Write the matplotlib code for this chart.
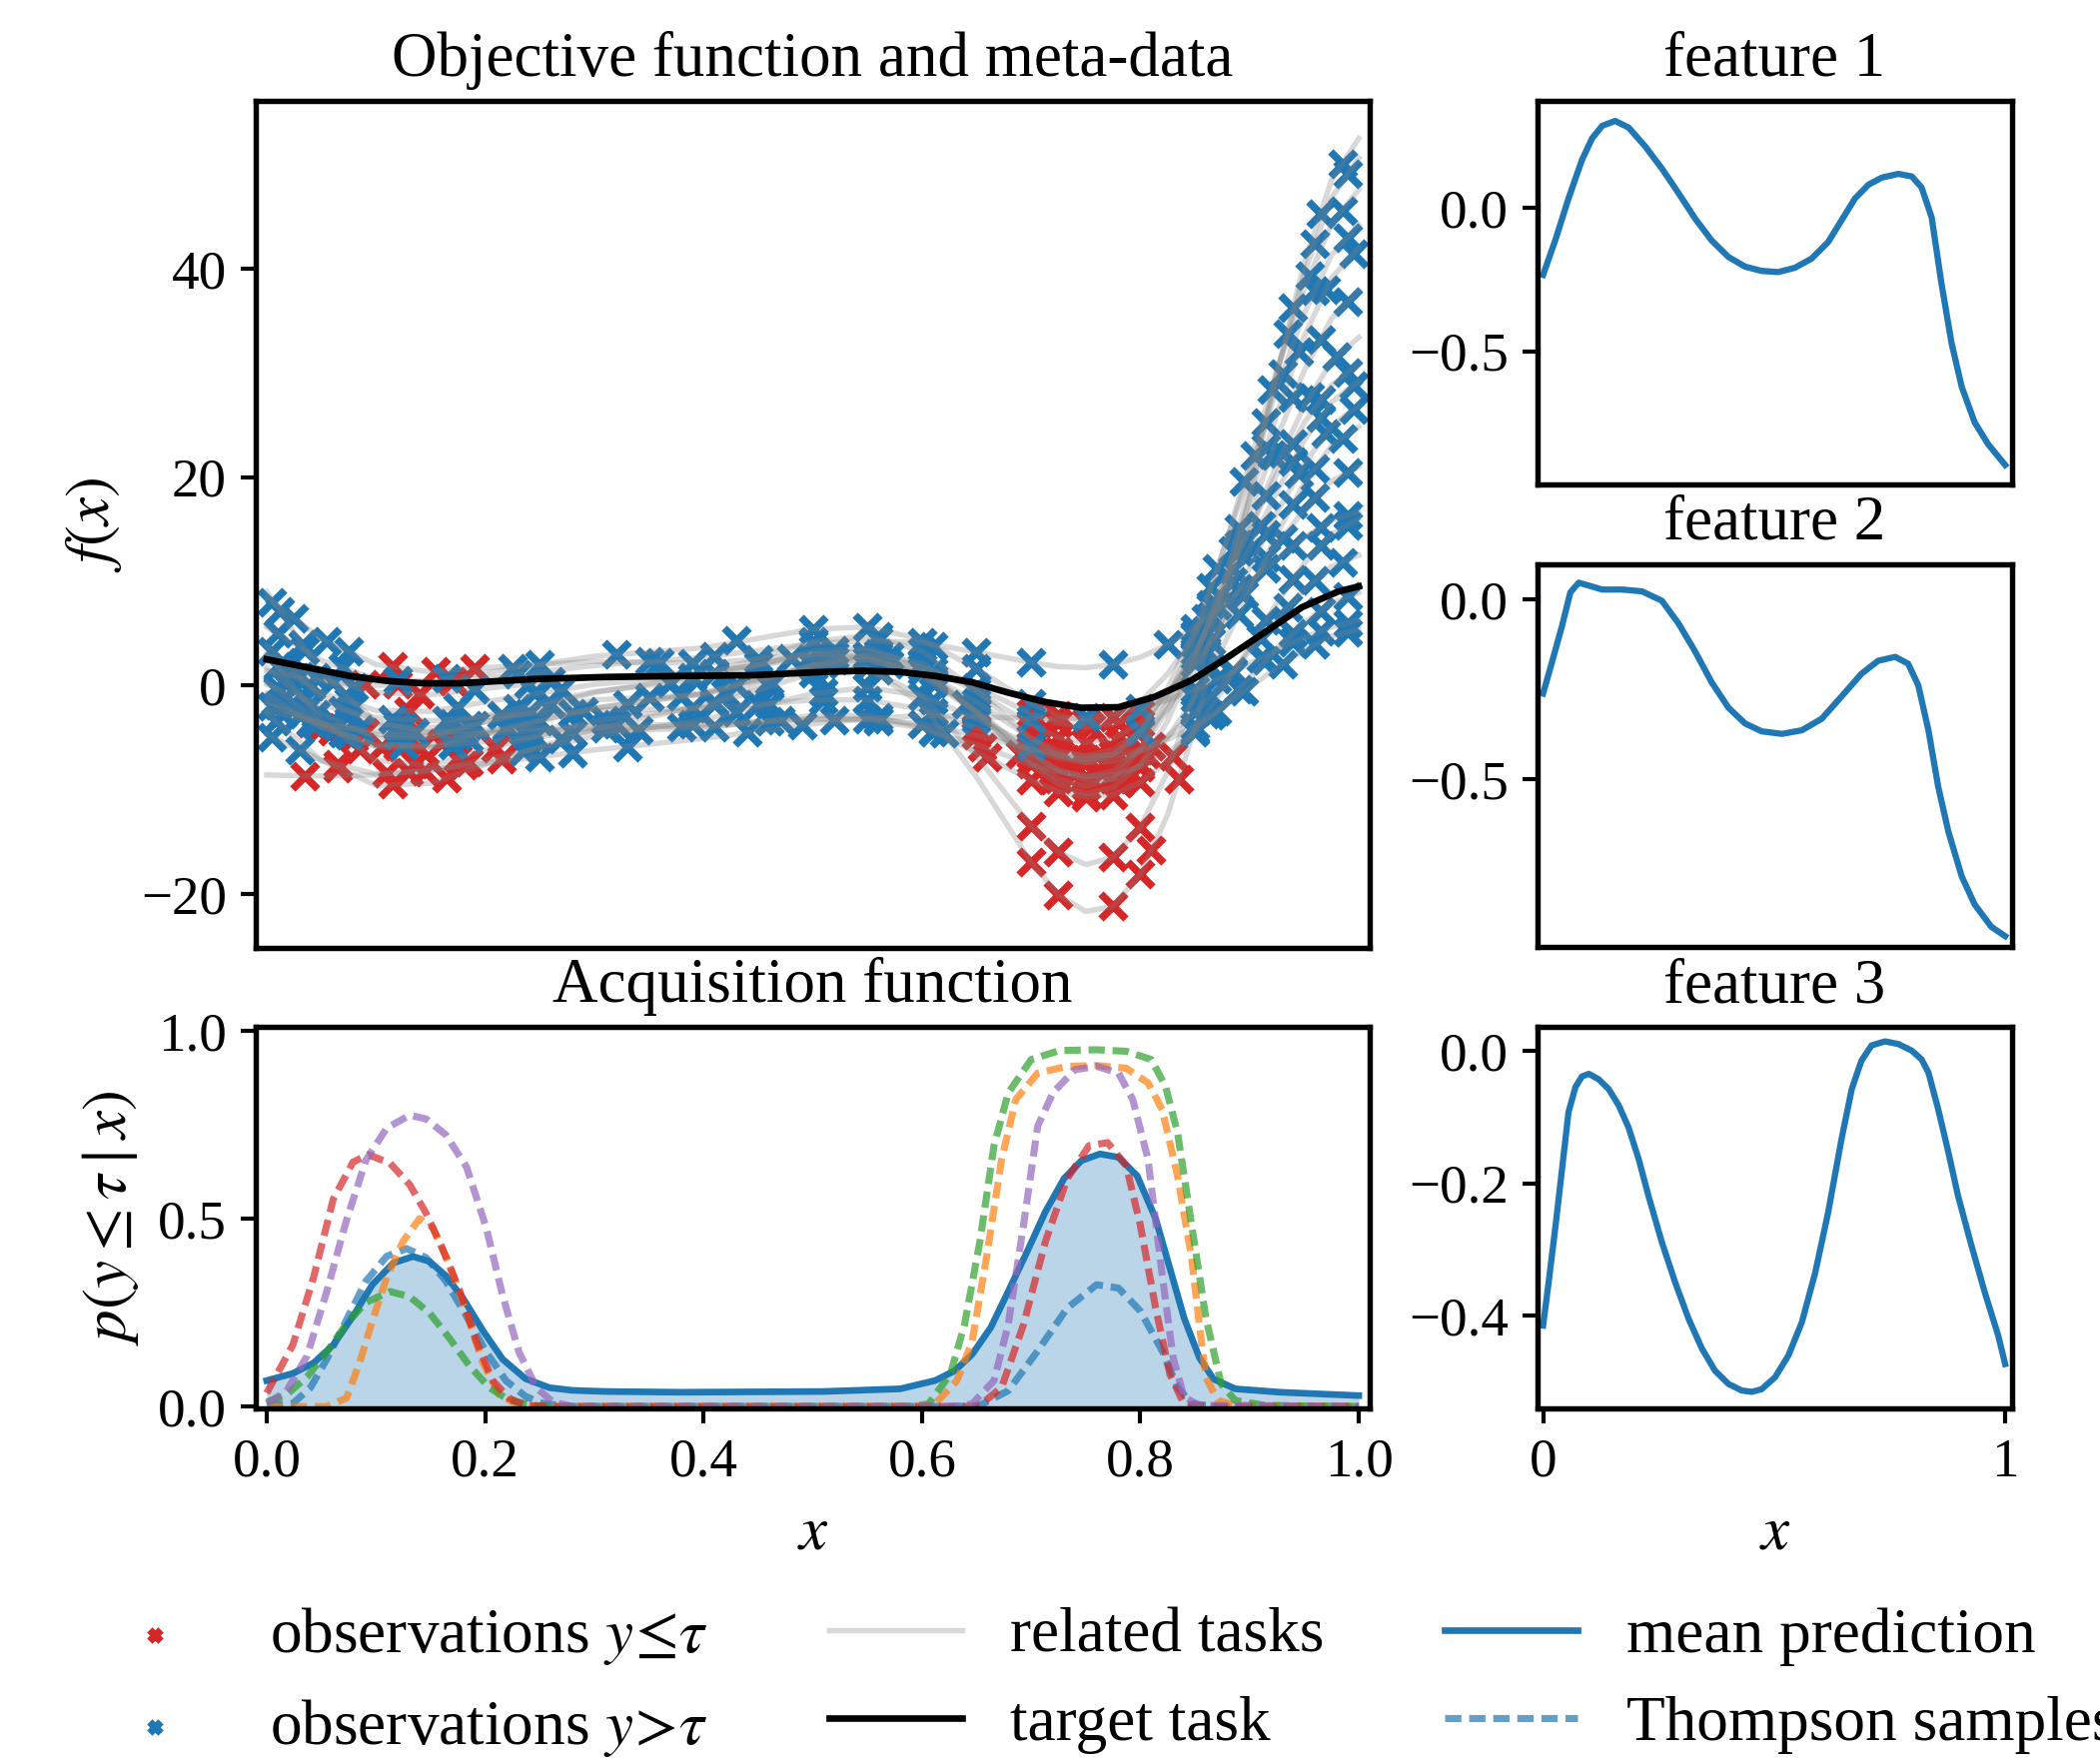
import matplotlib
matplotlib.use("Agg")
import matplotlib.pyplot as plt
from matplotlib.lines import Line2D

plt.rcParams.update({
    "font.family": ["Liberation Serif", "DejaVu Serif"],
    "mathtext.fontset": "stix",
    "font.size": 12.6,
    "xtick.labelsize": 13.2,
    "ytick.labelsize": 13.2,
    "axes.linewidth": 1.3,
    "xtick.major.width": 1.0,
    "ytick.major.width": 1.0,
    "axes.unicode_minus": True,
})

# ---- objective: related tasks (meta-data) sampled on a common grid ----
task_x = [0.0, 0.05, 0.1, 0.15, 0.2, 0.3, 0.4, 0.5, 0.55, 0.6, 0.65, 0.7, 0.725,
          0.75, 0.775, 0.8, 0.825, 0.85, 0.875, 0.9, 0.925, 0.95, 0.975, 1.0]
related_tasks = [
    [9.0, 1.2, -3.5, -4.6, -3.5, -1.4, -0.9, 1.8, 1.7, -1.8, -8.8, -17.0, -20.1, -21.7, -21.2, -18.1, -12.4, -4.0, 6.4, 18.1, 30.0, 40.5, 48.5, 52.5],
    [3.0, -3.4, -7.2, -7.7, -6.2, -3.4, -2.1, 1.2, 1.6, -1.0, -6.8, -13.5, -16.0, -17.2, -16.5, -13.6, -8.3, -0.7, 8.8, 19.3, 30.0, 39.5, 46.8, 50.6],
    [-2.7, -7.2, -9.6, -9.4, -7.6, -4.2, -1.9, 2.0, 2.9, 1.4, -2.6, -7.3, -9.0, -9.7, -8.9, -6.2, -1.6, 4.7, 12.6, 21.3, 30.2, 38.1, 44.3, 47.6],
    [1.7, -2.7, -5.0, -5.0, -3.5, -0.7, 1.0, 4.2, 4.8, 3.3, -0.5, -5.1, -6.7, -7.4, -6.7, -4.4, -0.3, 5.5, 12.6, 20.5, 28.5, 35.7, 41.3, 44.2],
    [3.8, -1.1, -3.8, -4.1, -2.9, -0.6, 0.6, 3.3, 3.6, 1.7, -2.6, -7.6, -9.5, -10.4, -9.8, -7.6, -3.4, 2.4, 9.7, 17.9, 26.1, 33.5, 39.1, 42.0],
    [0.3, -3.7, -5.9, -6.0, -4.7, -2.2, -0.8, 2.0, 2.5, 1.1, -2.4, -6.6, -8.1, -8.8, -8.2, -6.1, -2.4, 2.8, 9.2, 16.4, 23.7, 30.2, 35.2, 37.9],
    [-0.8, -4.0, -5.8, -5.7, -4.5, -2.2, -0.7, 1.9, 2.4, 1.3, -1.6, -5.1, -6.3, -6.8, -6.2, -4.4, -1.2, 3.3, 8.8, 15.0, 21.2, 26.8, 31.1, 33.4],
    [2.4, -0.7, -2.4, -2.5, -1.6, 0.1, 1.0, 3.0, 3.3, 2.1, -0.6, -3.8, -5.0, -5.5, -5.1, -3.6, -0.8, 3.1, 7.9, 13.2, 18.6, 23.5, 27.2, 29.2],
    [-4.7, -7.2, -8.5, -8.2, -7.1, -4.9, -3.3, -0.8, -0.2, -1.0, -3.2, -5.8, -6.8, -7.1, -6.6, -5.0, -2.2, 1.5, 6.2, 11.3, 16.6, 21.2, 24.9, 26.9],
    [2.9, 0.6, -0.7, -0.9, -0.3, 0.8, 1.3, 2.6, 2.8, 1.8, -0.2, -2.7, -3.6, -4.0, -3.7, -2.7, -0.7, 2.1, 5.6, 9.5, 13.4, 16.9, 19.6, 21.0],
    [1.4, 0.4, 0.0, 0.2, 0.7, 1.9, 2.7, 4.0, 4.3, 4.1, 3.2, 2.2, 1.8, 1.7, 2.0, 2.7, 3.9, 5.6, 7.6, 9.9, 12.1, 14.2, 15.8, 16.7],
    [0.1, -1.9, -3.1, -3.4, -3.0, -2.4, -2.2, -1.4, -1.4, -2.3, -4.1, -6.2, -7.0, -7.4, -7.3, -6.4, -4.9, -2.6, 0.1, 3.3, 6.4, 9.2, 11.4, 12.5],
    [-1.8, -3.6, -4.7, -4.9, -4.6, -4.1, -3.9, -3.3, -3.3, -4.1, -5.7, -7.6, -8.3, -8.7, -8.6, -7.8, -6.5, -4.5, -2.0, 0.7, 3.5, 6.0, 7.9, 8.9],
    [-2.4, -3.7, -4.4, -4.5, -4.3, -3.9, -3.7, -3.2, -3.2, -3.7, -4.8, -6.1, -6.6, -6.8, -6.7, -6.2, -5.2, -3.9, -2.2, -0.2, 1.7, 3.4, 4.7, 5.4],
    [-8.6, -8.7, -8.6, -8.1, -7.5, -6.2, -5.1, -3.7, -3.2, -2.9, -3.0, -3.2, -3.2, -3.1, -2.7, -2.2, -1.4, -0.4, 0.8, 2.1, 3.4, 4.6, 5.6, 6.3],
    [8.4, 4.5, 2.0, 1.3, 1.7, 2.3, 2.1, 3.0, 2.7, 0.9, -2.6, -6.7, -8.2, -9.1, -9.0, -7.6, -5.0, -1.2, 3.6, 9.0, 14.5, 19.4, 23.0, 24.8],
    [-1.4, -4.0, -5.6, -5.9, -5.4, -4.4, -4.1, -2.9, -2.9, -4.0, -6.4, -9.1, -10.2, -10.7, -10.5, -9.3, -7.3, -4.3, -0.5, 3.7, 7.9, 11.7, 14.5, 16.0],
    [5.6, 2.4, 0.6, 0.4, 1.2, 2.8, 3.6, 5.4, 5.6, 4.4, 1.6, -1.7, -2.9, -3.5, -3.1, -1.6, 1.1, 4.9, 9.7, 15.0, 20.3, 25.2, 28.8, 30.8],
]

target_x = [0.0, 0.043, 0.076, 0.11, 0.143, 0.177, 0.244, 0.31, 0.378, 0.445, 0.512, 0.545, 0.579,
            0.612, 0.646, 0.679, 0.713, 0.746, 0.78, 0.813, 0.847, 0.88, 0.914, 0.948, 0.981, 1.0]
target_y = [2.5, 1.6, 0.9, 0.43, 0.2, 0.2, 0.6, 0.8, 0.9, 0.97, 1.3, 1.4, 1.3,
            0.9, 0.3, -0.7, -1.6, -2.15, -2.1, -1.1, 0.5, 2.7, 5.1, 7.5, 9.0, 9.5]

# observations with y <= tau (red), (x, y) pairs
obs_low = [
    (0.70, -17.0), (0.725, -20.1), (0.775, -21.2), (0.80, -18.1), (0.81, -15.8), (0.835, -9.0),
    (0.085, -6.1), (0.135, -7.55), (0.175, -6.95), (0.21, -6.0), (0.70, -13.5), (0.725, -16.0),
    (0.775, -16.5), (0.80, -13.6), (0.83, -6.8),
    (0.065, -7.9), (0.115, -9.5), (0.165, -8.9), (0.215, -7.1), (0.725, -9.0), (0.75, -9.7), (0.78, -8.8),
    (0.09, -4.5), (0.125, -5.0), (0.705, -5.4), (0.72, -6.4), (0.75, -7.4), (0.785, -5.8),
    (0.69, -6.6), (0.72, -9.1), (0.75, -10.4), (0.78, -9.4), (0.805, -6.6),
    (0.105, -5.9), (0.14, -6.0), (0.70, -6.6), (0.725, -8.1), (0.75, -8.8), (0.765, -8.4), (0.795, -6.5),
    (0.08, -5.1), (0.12, -5.8), (0.16, -5.5), (0.70, -5.1), (0.725, -6.3), (0.745, -6.7), (0.775, -6.2),
    (0.13, -2.46), (0.70, -3.8), (0.725, -5.0), (0.75, -5.5), (0.78, -5.0), (0.80, -3.6),
    (0.065, -7.6), (0.11, -8.4), (0.145, -8.2), (0.185, -7.4), (0.725, -6.8), (0.75, -7.1), (0.775, -6.6),
    (0.14, -0.86), (0.70, -2.7), (0.725, -3.6), (0.755, -4.0), (0.78, -3.6), (0.80, -2.7),
    (0.09, 0.08), (0.12, 0.08), (0.17, 0.4),
    (0.65, -4.1), (0.70, -6.2), (0.725, -7.0), (0.75, -7.4), (0.775, -7.3), (0.81, -5.8),
    (0.655, -5.9), (0.70, -7.6), (0.72, -8.2), (0.74, -8.5), (0.785, -8.3), (0.80, -7.8),
    (0.65, -4.8), (0.70, -6.1), (0.725, -6.6), (0.76, -6.8), (0.78, -6.7), (0.80, -6.2),
    (0.035, -8.7), (0.13, -8.3), (0.18, -7.7),
    (0.115, 1.8), (0.155, 1.34), (0.19, 1.6), (0.65, -2.6), (0.70, -6.7), (0.75, -9.1), (0.775, -9.0), (0.80, -7.6),
    (0.66, -6.9), (0.70, -9.1), (0.725, -10.2), (0.75, -10.7), (0.775, -10.5), (0.80, -9.3),
    (0.725, -2.9), (0.75, -3.5), (0.775, -3.1),
    (0.04, -3.6), (0.05, -4.0), (0.06, -4.4),
]

# observations with y > tau (blue), (x, y) pairs
obs_high = [
    (0.012, 7.1), (0.033, 3.9), (0.125, -4.05), (0.185, -3.8), (0.24, -2.66), (0.35, -1.1), (0.42, -0.8),
    (0.50, 1.8), (0.55, 1.7), (0.62, -4.6), (0.885, 11.1), (0.915, 25.2), (0.94, 36.3), (0.965, 45.3), (0.985, 50.1),
    (0.02, 0.4), (0.045, -2.8), (0.245, -4.9), (0.31, -3.3), (0.41, -1.8), (0.46, -0.1), (0.50, 1.2),
    (0.56, 1.5), (0.60, -1.0), (0.86, 3.1), (0.89, 15.1), (0.935, 33.8), (0.96, 42.4), (0.99, 49.1),
    (0.008, -3.4), (0.27, -5.2), (0.32, -3.7), (0.41, -1.6), (0.46, 0.4), (0.52, 2.4), (0.55, 2.9), (0.60, 1.4),
    (0.64, -1.8), (0.85, 4.7), (0.865, 9.4), (0.895, 19.6), (0.92, 28.4), (0.955, 39.3), (0.985, 45.6),
    (0.015, 0.4), (0.04, -1.8), (0.19, -3.8), (0.26, -1.8), (0.39, 0.8), (0.50, 4.2), (0.56, 4.7), (0.60, 3.3),
    (0.80, -4.4), (0.85, 5.5), (0.87, 11.2), (0.905, 22.1), (0.93, 29.9), (0.96, 37.9), (0.99, 43.0),
    (0.005, 3.3), (0.03, 0.9), (0.075, -2.45), (0.12, -3.9), (0.17, -3.6), (0.23, -2.2), (0.37, 0.2), (0.52, 3.4),
    (0.57, 2.8), (0.60, 1.7), (0.86, 5.3), (0.885, 13.0), (0.915, 22.8), (0.945, 32.0), (0.97, 38.0), (0.995, 41.4),
    (0.01, -0.5), (0.035, -2.5), (0.07, -4.6), (0.185, -5.1), (0.25, -3.45), (0.33, -1.8), (0.43, 0.0), (0.50, 2.0),
    (0.57, 2.0), (0.61, 0.4), (0.65, -2.4), (0.85, 2.8), (0.865, 6.6), (0.89, 13.5), (0.92, 22.2), (0.94, 27.6),
    (0.965, 33.2), (0.99, 36.8),
    (0.02, -2.1), (0.045, -3.7), (0.22, -4.0), (0.28, -2.7), (0.38, -1.0), (0.51, 2.0), (0.55, 2.4), (0.61, 0.7),
    (0.65, -1.6), (0.85, 3.3), (0.87, 7.7), (0.895, 13.8), (0.93, 22.3), (0.955, 27.7), (0.98, 31.6),
    (0.01, 1.8), (0.04, -0.1), (0.075, -1.55), (0.175, -2.05), (0.245, -0.8), (0.27, -0.4), (0.41, 1.2), (0.48, 2.6),
    (0.56, 3.1), (0.60, 2.1), (0.65, -0.6), (0.86, 5.0), (0.885, 10.0), (0.91, 15.4), (0.94, 21.5), (0.965, 25.7),
    (0.995, 28.8),
    (0.005, -4.95), (0.03, -6.2), (0.235, -6.3), (0.34, -4.3), (0.43, -2.6), (0.46, -1.8), (0.51, -0.7), (0.55, -0.2),
    (0.61, -1.4), (0.65, -3.2), (0.70, -5.8), (0.86, 3.4), (0.89, 9.3), (0.915, 14.5), (0.945, 20.3), (0.97, 24.2),
    (0.995, 26.5),
    (0.015, 2.2), (0.045, 0.8), (0.08, -0.2), (0.19, -0.4), (0.24, 0.14), (0.26, 0.4), (0.45, 1.9), (0.51, 2.6),
    (0.55, 2.8), (0.61, 1.4), (0.65, -0.2), (0.85, 2.1), (0.865, 4.2), (0.895, 8.7), (0.93, 14.1), (0.96, 18.0),
    (0.99, 20.4),
    (0.02, 1.0), (0.06, 0.32), (0.23, 1.06), (0.35, 2.3), (0.41, 2.8), (0.50, 4.0), (0.56, 4.3), (0.60, 4.1),
    (0.65, 3.2), (0.70, 2.2), (0.775, 2.0), (0.825, 3.9), (0.86, 6.4), (0.89, 9.0), (0.915, 11.2), (0.94, 13.4),
    (0.965, 15.2), (0.99, 16.3),
    (0.01, -0.3), (0.035, -1.3), (0.07, -2.4), (0.115, -3.2), (0.165, -3.3), (0.215, -2.9), (0.29, -2.5), (0.39, -2.2),
    (0.45, -1.8), (0.51, -1.4), (0.55, -1.4), (0.61, -2.6), (0.85, -2.6), (0.865, -1.0), (0.885, 1.4), (0.91, 4.5),
    (0.935, 7.5), (0.96, 10.1), (0.985, 11.8),
    (0.005, -2.0), (0.03, -2.9), (0.065, -3.9), (0.12, -4.8), (0.175, -4.75), (0.235, -4.4), (0.31, -4.1), (0.38, -4.0),
    (0.52, -3.3), (0.56, -3.4), (0.61, -4.4), (0.85, -4.5), (0.87, -2.5), (0.89, -0.4), (0.915, 2.4), (0.94, 5.0),
    (0.965, 7.1), (0.99, 8.5),
    (0.015, -2.8), (0.045, -3.6), (0.085, -4.2), (0.135, -4.5), (0.18, -4.4), (0.22, -4.2), (0.24, -4.1), (0.39, -3.7),
    (0.47, -3.35), (0.56, -3.3), (0.60, -3.7), (0.85, -3.9), (0.865, -2.9), (0.895, -0.6), (0.93, 2.0), (0.96, 3.9),
    (0.99, 5.1),
    (0.25, -6.85), (0.28, -6.5), (0.33, -5.9), (0.44, -4.5), (0.49, -3.85), (0.55, -3.2), (0.61, -2.9), (0.65, -3.0),
    (0.70, -3.2), (0.75, -3.1), (0.80, -2.2), (0.85, -0.4), (0.87, 0.6), (0.91, 2.6), (0.94, 4.1), (0.965, 5.2),
    (0.99, 6.0),
    (0.005, 8.0), (0.025, 6.45), (0.055, 4.25), (0.075, 3.25), (0.25, 2.0), (0.36, 2.2), (0.39, 2.1), (0.45, 2.55),
    (0.52, 2.9), (0.56, 2.4), (0.61, 0.2), (0.85, -1.2), (0.865, 1.7), (0.89, 6.8), (0.915, 12.3), (0.94, 17.4),
    (0.96, 20.8), (0.985, 23.7),
    (0.01, -1.9), (0.04, -3.5), (0.075, -4.8), (0.125, -5.75), (0.17, -5.7), (0.24, -5.0), (0.28, -4.6), (0.41, -4.0),
    (0.46, -3.4), (0.56, -3.1), (0.61, -4.5), (0.85, -4.3), (0.86, -2.8), (0.885, 1.2), (0.915, 6.2), (0.94, 10.2),
    (0.965, 13.4), (0.99, 15.4),
    (0.01, 5.0), (0.035, 3.4), (0.07, 1.7), (0.12, 0.5), (0.165, 0.64), (0.225, 1.6), (0.32, 3.0), (0.43, 4.3),
    (0.50, 5.4), (0.55, 5.6), (0.61, 3.8), (0.65, 1.6), (0.70, -1.7), (0.85, 4.9), (0.865, 7.8), (0.89, 12.9),
    (0.915, 18.2), (0.94, 23.2), (0.965, 27.4), (0.99, 30.0),
]

# ---- acquisition function ----
acq_mean_x = [0.0, 0.024, 0.043, 0.061, 0.079, 0.097, 0.116, 0.134, 0.149, 0.164, 0.18, 0.198,
              0.216, 0.237, 0.259, 0.28, 0.31, 0.38, 0.51, 0.58, 0.612, 0.63, 0.646, 0.663,
              0.679, 0.696, 0.713, 0.73, 0.746, 0.763, 0.78, 0.797, 0.814, 0.827, 0.84, 0.854,
              0.867, 0.887, 0.928, 1.0]
acq_mean = [0.069, 0.088, 0.116, 0.164, 0.24, 0.325, 0.382, 0.399, 0.386, 0.348, 0.287, 0.202,
            0.126, 0.074, 0.05, 0.043, 0.04, 0.038, 0.04, 0.047, 0.069, 0.095, 0.139, 0.21,
            0.306, 0.41, 0.518, 0.606, 0.654, 0.672, 0.663, 0.614, 0.5, 0.368, 0.236, 0.13,
            0.073, 0.047, 0.038, 0.029]

ts_blue_x = [0.0, 0.024, 0.04, 0.055, 0.073, 0.091, 0.11, 0.128, 0.146, 0.164, 0.183, 0.201,
             0.219, 0.237, 0.253, 0.28, 0.63, 0.653, 0.679, 0.706, 0.733, 0.76, 0.78, 0.8,
             0.82, 0.834, 0.847, 0.87, 1.0]
ts_blue = [0.003, 0.008, 0.05, 0.126, 0.23, 0.334, 0.4, 0.42, 0.396, 0.334, 0.24, 0.145,
           0.069, 0.027, 0.008, 0.0, 0.0, 0.003, 0.042, 0.148, 0.262, 0.324, 0.315, 0.254,
           0.148, 0.051, 0.007, 0.0, 0.0]
ts_orange_x = [0.0, 0.055, 0.073, 0.085, 0.097, 0.11, 0.125, 0.14, 0.152, 0.167, 0.183, 0.198,
               0.213, 0.231, 0.25, 0.6, 0.612, 0.632, 0.646, 0.659, 0.673, 0.686, 0.706, 0.733,
               0.76, 0.787, 0.807, 0.82, 0.834, 0.847, 0.854, 0.86, 0.871, 0.887, 1.0]
ts_orange = [0.0, 0.0, 0.022, 0.116, 0.23, 0.344, 0.44, 0.5, 0.476, 0.38, 0.25, 0.116,
             0.031, 0.003, 0.0, 0.0, 0.007, 0.069, 0.174, 0.394, 0.658, 0.817, 0.887, 0.905,
             0.907, 0.9, 0.861, 0.79, 0.614, 0.394, 0.218, 0.077, 0.016, 0.003, 0.0]
ts_green_x = [0.0, 0.018, 0.037, 0.055, 0.073, 0.091, 0.113, 0.131, 0.149, 0.167, 0.186, 0.204,
              0.222, 0.244, 0.26, 0.59, 0.606, 0.626, 0.639, 0.653, 0.666, 0.679, 0.7, 0.726,
              0.76, 0.787, 0.81, 0.823, 0.834, 0.847, 0.86, 0.874, 0.887, 0.914, 1.0]
ts_green = [0.012, 0.031, 0.079, 0.145, 0.22, 0.277, 0.306, 0.292, 0.249, 0.183, 0.107, 0.05,
            0.017, 0.003, 0.0, 0.0, 0.007, 0.086, 0.218, 0.438, 0.694, 0.834, 0.923, 0.947,
            0.949, 0.945, 0.923, 0.852, 0.729, 0.482, 0.236, 0.06, 0.016, 0.003, 0.0]
ts_red_x = [0.0, 0.024, 0.043, 0.061, 0.079, 0.093, 0.113, 0.131, 0.146, 0.161, 0.177, 0.192,
            0.207, 0.222, 0.237, 0.26, 0.64, 0.653, 0.673, 0.693, 0.713, 0.733, 0.753, 0.77,
            0.787, 0.8, 0.814, 0.827, 0.84, 0.86, 1.0]
ts_red = [0.036, 0.164, 0.344, 0.552, 0.65, 0.67, 0.647, 0.59, 0.514, 0.42, 0.306, 0.173,
          0.069, 0.022, 0.003, 0.0, 0.0, 0.003, 0.051, 0.218, 0.438, 0.606, 0.694, 0.702,
          0.641, 0.482, 0.262, 0.086, 0.007, 0.0, 0.0]
ts_purple_x = [0.0, 0.018, 0.037, 0.055, 0.073, 0.091, 0.11, 0.131, 0.146, 0.164, 0.183, 0.201,
               0.216, 0.231, 0.247, 0.262, 0.28, 0.63, 0.646, 0.666, 0.679, 0.693, 0.706, 0.72,
               0.74, 0.76, 0.78, 0.793, 0.807, 0.82, 0.83, 0.84, 0.854, 1.0]
ts_purple = [0.008, 0.04, 0.135, 0.306, 0.495, 0.656, 0.741, 0.775, 0.765, 0.723, 0.637, 0.476,
             0.296, 0.145, 0.05, 0.012, 0.0, 0.0, 0.007, 0.069, 0.218, 0.482, 0.746, 0.835,
             0.896, 0.905, 0.887, 0.817, 0.658, 0.35, 0.13, 0.025, 0.003, 0.0]
thompson = [(ts_blue_x, ts_blue, "C0"), (ts_orange_x, ts_orange, "C1"),
            (ts_green_x, ts_green, "C2"), (ts_red_x, ts_red, "C3"),
            (ts_purple_x, ts_purple, "C4")]

# ---- learned features ----
f1_x = [0.0, 0.027, 0.055, 0.084, 0.106, 0.128, 0.156, 0.185, 0.221, 0.257, 0.293, 0.329, 0.365,
        0.401, 0.437, 0.473, 0.509, 0.545, 0.581, 0.617, 0.646, 0.675, 0.704, 0.733, 0.769, 0.798,
        0.819, 0.841, 0.862, 0.884, 0.906, 0.934, 0.963, 1.0]
f1_y = [-0.233, -0.109, 0.034, 0.168, 0.244, 0.288, 0.305, 0.282, 0.216, 0.139, 0.053, -0.036, -0.113,
        -0.17, -0.204, -0.219, -0.223, -0.208, -0.176, -0.118, -0.042, 0.034, 0.082, 0.107, 0.12, 0.111,
        0.073, -0.032, -0.261, -0.471, -0.624, -0.748, -0.824, -0.897]
f2_x = [0.0, 0.019, 0.041, 0.059, 0.077, 0.099, 0.128, 0.171, 0.214, 0.257, 0.293, 0.329, 0.365,
        0.401, 0.437, 0.473, 0.517, 0.56, 0.603, 0.646, 0.689, 0.725, 0.762, 0.79, 0.812, 0.834,
        0.855, 0.877, 0.906, 0.934, 0.97, 1.0]
f2_y = [-0.261, -0.175, -0.073, 0.02, 0.047, 0.039, 0.028, 0.028, 0.023, -0.003, -0.066, -0.144, -0.23,
        -0.3, -0.344, -0.366, -0.373, -0.363, -0.331, -0.269, -0.206, -0.17, -0.159, -0.178, -0.238, -0.363,
        -0.519, -0.644, -0.769, -0.847, -0.909, -0.935]
f3_x = [0.0, 0.012, 0.027, 0.041, 0.055, 0.07, 0.084, 0.099, 0.12, 0.142, 0.164, 0.185, 0.207, 0.228,
        0.257, 0.286, 0.315, 0.344, 0.372, 0.401, 0.43, 0.452, 0.473, 0.502, 0.531, 0.56, 0.589, 0.617,
        0.646, 0.668, 0.689, 0.711, 0.74, 0.769, 0.798, 0.819, 0.834, 0.855, 0.877, 0.898, 0.927, 0.956,
        0.985, 1.0]
f3_y = [-0.415, -0.35, -0.264, -0.179, -0.093, -0.055, -0.039, -0.035, -0.043, -0.058, -0.083, -0.116,
        -0.164, -0.219, -0.289, -0.35, -0.405, -0.45, -0.483, -0.503, -0.513, -0.515, -0.511, -0.493,
        -0.46, -0.41, -0.335, -0.244, -0.133, -0.058, -0.015, 0.008, 0.014, 0.01, 0.0, -0.013, -0.033,
        -0.088, -0.153, -0.219, -0.294, -0.365, -0.43, -0.473]

W, H = 2102, 1763
fig = plt.figure(figsize=(W / 300, H / 300), dpi=300)


def box(left, top, right, bottom):
    return [left / W, 1 - bottom / H, (right - left) / W, (bottom - top) / H]


ax_obj = fig.add_axes(box(256, 101, 1371, 949))
ax_acq = fig.add_axes(box(256, 1028, 1371, 1410))
ax_f1 = fig.add_axes(box(1539, 101, 2014, 485))
ax_f2 = fig.add_axes(box(1539, 565, 2014, 948))
ax_f3 = fig.add_axes(box(1539, 1028, 2014, 1410))

# objective + meta-data
lx, ly = zip(*obs_low)
hx, hy = zip(*obs_high)
h_low = ax_obj.scatter(lx, ly, marker="x", s=36, linewidths=1.8, color="tab:red")
h_high = ax_obj.scatter(hx, hy, marker="x", s=36, linewidths=1.8, color="tab:blue")
for ys in related_tasks:
    ax_obj.plot(task_x, ys, color="gray", alpha=0.3, lw=1.3)
h_target, = ax_obj.plot(target_x, target_y, color="black", lw=1.6)
ax_obj.set_xlim(-0.01, 1.01)
ax_obj.set_ylim(-25.2, 56.1)
ax_obj.set_yticks([-20, 0, 20, 40])
ax_obj.tick_params(bottom=False, labelbottom=False)
ax_obj.set_ylabel("$f(x)$", fontsize="large")
ax_obj.set_title("Objective function and meta-data", fontsize="large")

# acquisition
ax_acq.fill_between(acq_mean_x, acq_mean, color="tab:blue", alpha=0.3, lw=0)
h_mean, = ax_acq.plot(acq_mean_x, acq_mean, color="tab:blue", lw=1.6)
h_ts = None
for xs, ys, c in thompson:
    ln, = ax_acq.plot(xs, ys, color=c, alpha=0.7, lw=1.7, ls="--", dashes=(2.3, 1.1))
    if h_ts is None:
        h_ts = ln
ax_acq.set_xlim(-0.01, 1.01)
ax_acq.set_ylim(-0.005, 1.01)
ax_acq.set_xticks([0.0, 0.2, 0.4, 0.6, 0.8, 1.0])
ax_acq.set_yticks([0.0, 0.5, 1.0])
ax_acq.set_xlabel("$x$", fontsize="large")
ax_acq.set_ylabel(r"$p(y \leq \tau \mid x)$", fontsize="large")
ax_acq.set_title("Acquisition function", fontsize="large")

# features
for ax, xs, ys, name, ylim, yt in [
        (ax_f1, f1_x, f1_y, "feature 1", (-0.965, 0.375), [0.0, -0.5]),
        (ax_f2, f2_x, f2_y, "feature 2", (-0.965, 0.098), [0.0, -0.5]),
        (ax_f3, f3_x, f3_y, "feature 3", (-0.54, 0.036), [0.0, -0.2, -0.4])]:
    ax.plot(xs, ys, color="tab:blue", lw=1.5)
    ax.set_xlim(-0.012, 1.015)
    ax.set_ylim(*ylim)
    ax.set_yticks(yt)
    ax.set_title(name, fontsize="large")
ax_f1.tick_params(bottom=False, labelbottom=False)
ax_f2.tick_params(bottom=False, labelbottom=False)
ax_f3.set_xticks([0, 1])
ax_f3.set_xlabel("$x$", fontsize="large")

h_related = Line2D([], [], color="gray", alpha=0.3, lw=1.3)
handles = [h_low, h_high, h_related, h_target, h_mean, h_ts]
labels = [r"observations $y\!\leq\!\tau$", r"observations $y\!>\!\tau$",
          "related tasks", "target task", "mean prediction", "Thompson samples"]
fig.legend(handles, labels, loc="upper left", bbox_to_anchor=(0.015, 0.121), ncol=3,
           frameon=False, fontsize=15.2, handlelength=2.1, handletextpad=0.77,
           columnspacing=1.9, labelspacing=0.48, markerscale=0.45, scatterpoints=1)

fig.savefig("out.png", dpi=300)
